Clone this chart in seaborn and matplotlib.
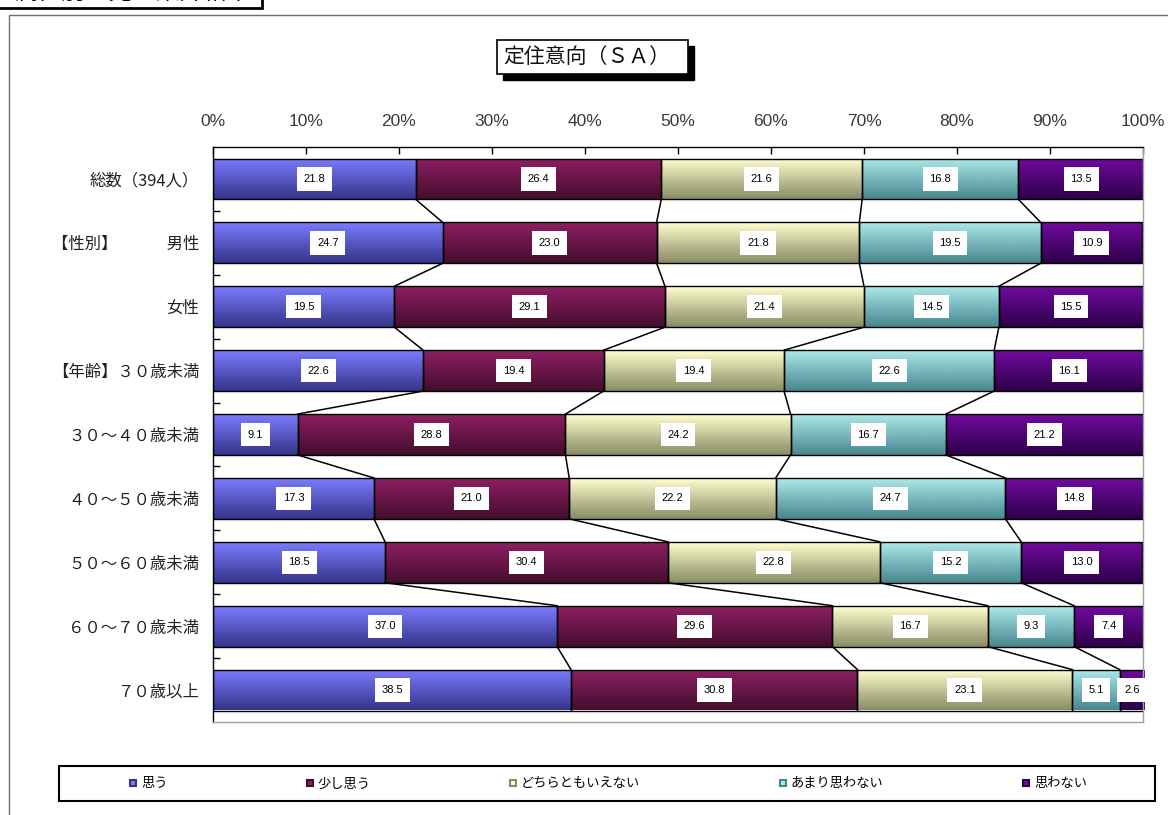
import numpy as np
import matplotlib
matplotlib.use("Agg")
import matplotlib.pyplot as plt
from matplotlib.colors import LinearSegmentedColormap
from matplotlib.lines import Line2D
from matplotlib.patches import Rectangle
import seaborn as sns

# ---- data -------------------------------------------------------------
categories = ["総数（394人）", "【性別】\u3000\u3000\u3000男性", "女性",
              "【年齢】３０歳未満", "３０～４０歳未満", "４０～５０歳未満",
              "５０～６０歳未満", "６０～７０歳未満", "７０歳以上"]
series = ["思う", "少し思う", "どちらともいえない", "あまり思わない", "思わない"]

omou = [21.8, 24.7, 19.5, 22.6, 9.1, 17.3, 18.5, 37.0, 38.5]
sukoshi_omou = [26.4, 23.0, 29.1, 19.4, 28.8, 21.0, 30.4, 29.6, 30.8]
dochiratomo = [21.6, 21.8, 21.4, 19.4, 24.2, 22.2, 22.8, 16.7, 23.1]
amari_omowanai = [16.8, 19.5, 14.5, 22.6, 16.7, 24.7, 15.2, 9.3, 5.1]
omowanai = [13.5, 10.9, 15.5, 16.1, 21.2, 14.8, 13.0, 7.4, 2.6]

x_ticks = [0, 10, 20, 30, 40, 50, 60, 70, 80, 90, 100]
x_tick_labels = ["0%", "10%", "20%", "30%", "40%", "50%",
                 "60%", "70%", "80%", "90%", "100%"]

title = "定住意向（ＳＡ）"
section_heading = "属性別で見る集計結果"

# vertical gradient (top colour, bottom colour) for each answer
gradients = [("#7c7cff", "#34348a"),
             ("#8e1e64", "#420e2c"),
             ("#ffffcf", "#8a8a66"),
             ("#aeeaea", "#468690"),
             ("#700aa0", "#2c0046")]

# ---- figure -----------------------------------------------------------
W_PX, H_PX = 1168, 815
fig = plt.figure(figsize=(W_PX / 100, H_PX / 100), dpi=100)
fig.patch.set_facecolor("white")
plt.rcParams["font.family"] = ["Noto Sans CJK JP", "DejaVu Sans"]


def fx(x):
    return x / W_PX


def fy(y):
    return 1 - y / H_PX


ax = fig.add_axes([fx(213), fy(722), fx(1143) - fx(213), fy(147) - fy(722)])

BAR_W = 0.64
values = [omou, sukoshi_omou, dochiratomo, amari_omowanai, omowanai]
lefts = np.zeros(len(categories))
grad_img = np.linspace(0, 1, 128).reshape(-1, 1)
num_font = ["Liberation Sans Narrow", "Liberation Sans", "DejaVu Sans"]

for name, vals, (ctop, cbot) in zip(series, values, gradients):
    start = len(ax.patches)
    sns.barplot(x=vals, y=categories, order=categories, orient="h",
                color=cbot, saturation=1, width=BAR_W, left=lefts.copy(),
                edgecolor="black", linewidth=1.0, errorbar=None, ax=ax)
    cmap = LinearSegmentedColormap.from_list(name, [ctop, cbot])
    for p in ax.patches[start:]:
        x0, y0 = p.get_x(), p.get_y()
        w, h = p.get_width(), p.get_height()
        im = ax.imshow(grad_img, cmap=cmap, aspect="auto", origin="upper",
                       extent=[x0, x0 + w, y0 + h, y0],
                       interpolation="bilinear", zorder=1.5)
        im.set_clip_path(p)
        p.set_facecolor("none")
        p.set_zorder(2)
    for i, v in enumerate(vals):
        ax.text(lefts[i] + v / 2, i, f"{v:.1f}", ha="center", va="center",
                fontsize=8, family=num_font, color="black", zorder=5,
                bbox=dict(boxstyle="square,pad=0.6", fc="white", ec="none"))
    lefts = lefts + np.array(vals)

# connector lines between the cumulative boundaries of adjacent bars
cum = np.cumsum(np.array(values), axis=0)
for k in range(len(series) - 1):
    for i in range(len(categories) - 1):
        ax.plot([cum[k, i], cum[k, i + 1]],
                [i + BAR_W / 2, i + 1 - BAR_W / 2],
                color="black", lw=1.1, zorder=3)

ax.set_xlim(0, 100)
ax.set_ylim(len(categories) - 0.5, -0.5)
ax.set_xlabel("")
ax.set_ylabel("")

ax.xaxis.tick_top()
ax.set_xticks(x_ticks)
ax.set_xticklabels(x_tick_labels, family=num_font)
ax.tick_params(axis="x", direction="in", length=5, width=1, pad=13,
               labelsize=12.5, colors="black")
ax.tick_params(axis="x", labelcolor="#3a3a3a")

ax.set_yticks(range(len(categories)))
ax.set_yticklabels(categories)
ax.tick_params(axis="y", which="major", length=0, pad=10, labelsize=11.8,
               labelcolor="#222222")
ax.set_yticks(np.arange(0.5, len(categories) - 1, 1), minor=True)
ax.tick_params(axis="y", which="minor", direction="in", length=5, width=1,
               color="black")

for side in ("top", "left"):
    ax.spines[side].set_color("black")
    ax.spines[side].set_linewidth(1.0)
for side in ("right", "bottom"):
    ax.spines[side].set_color("#a0a0a0")
    ax.spines[side].set_linewidth(1.0)
ax.set_facecolor("white")
ax.grid(False)

# ---- page furniture ---------------------------------------------------
fig.add_artist(Rectangle((fx(9), fy(900)), fx(1300), fy(15) - fy(900),
                         transform=fig.transFigure, fill=False,
                         ec="#707070", lw=1.0, zorder=0))
fig.add_artist(Rectangle((fx(-10), fy(8)), fx(272), fy(-40) - fy(8),
                         transform=fig.transFigure, fill=False,
                         ec="black", lw=2.0, zorder=1))
fig.text(fx(14), fy(5), section_heading, fontsize=17, ha="left",
         va="bottom", color="black")

# title box with drop shadow
fig.add_artist(Rectangle((fx(503), fy(80)), fx(191), fy(46) - fy(80),
                         transform=fig.transFigure, fc="black", ec="black",
                         lw=1, zorder=3))
fig.add_artist(Rectangle((fx(497), fy(74)), fx(191), fy(40) - fy(74),
                         transform=fig.transFigure, fc="white", ec="black",
                         lw=1.2, zorder=4))
fig.text(fx(503), fy(57), title, fontsize=15, ha="left", va="center",
         color="#111111", zorder=5)

# legend
fig.add_artist(Rectangle((fx(59), fy(801)), fx(1155) - fx(59), fy(766) - fy(801),
                         transform=fig.transFigure, fill=False,
                         ec="black", lw=1.5, zorder=1))
handles = [Line2D([], [], ls="", marker="s", markersize=5,
                  markerfacecolor=ctop, markeredgecolor=cbot, markeredgewidth=1.5)
           for ctop, cbot in gradients]
fig.legend(handles, series, ncol=5, loc="center",
           bbox_to_anchor=(fx(608), fy(784)), frameon=False,
           columnspacing=10.5, handlelength=0.6, handletextpad=0.3,
           fontsize=9.5, borderpad=0.2)

fig.savefig("out.png", dpi=100)
